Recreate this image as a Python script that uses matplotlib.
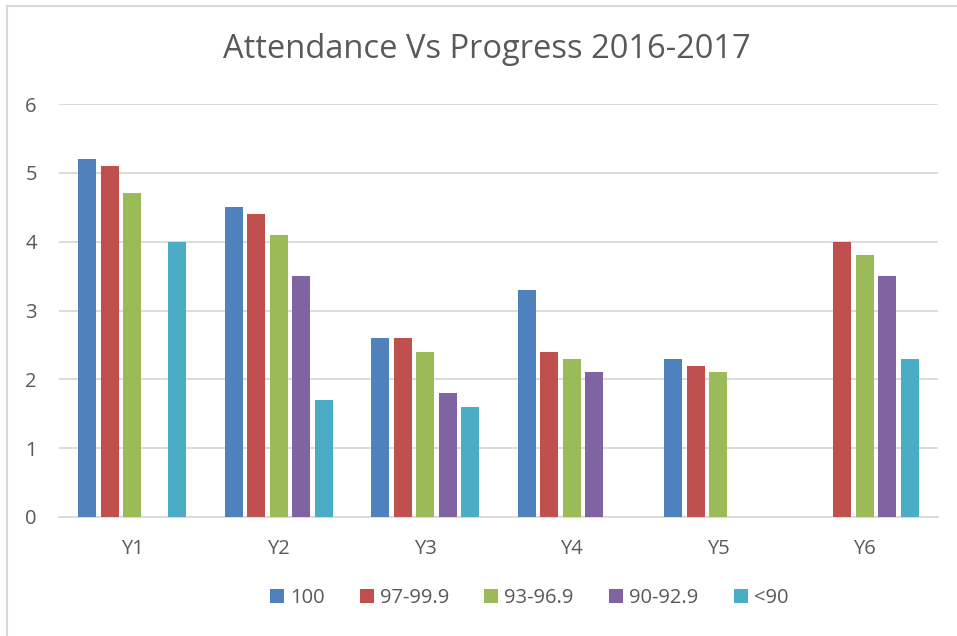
import matplotlib
matplotlib.use("Agg")
import matplotlib.pyplot as plt
import numpy as np

categories = ["Y1", "Y2", "Y3", "Y4", "Y5", "Y6"]
series_names = ["100", "97-99.9", "93-96.9", "90-92.9", "<90"]
s_100 = [5.2, 4.5, 2.6, 3.3, 2.3, np.nan]
s_97 = [5.1, 4.4, 2.6, 2.4, 2.2, 4.0]
s_93 = [4.7, 4.1, 2.4, 2.3, 2.1, 3.8]
s_90 = [np.nan, 3.5, 1.8, 2.1, np.nan, 3.5]
s_lt90 = [4.0, 1.7, 1.6, np.nan, np.nan, 2.3]
series = [s_100, s_97, s_93, s_90, s_lt90]
colors = ["#4F81BD", "#C0504D", "#9BBB59", "#8064A2", "#4BACC6"]

plt.rcParams['font.family'] = ['Open Sans', 'DejaVu Sans']
txt = "#595959"

fig = plt.figure(figsize=(9.57, 6.36), dpi=100)
ax = fig.add_axes([59/957, 1-517/636, (938-59)/957, (517-104)/636])

x = np.arange(len(categories))
step = 0.1535
width = 0.1228
for i, (vals, c, name) in enumerate(zip(series, colors, series_names)):
    ax.bar(x + (i - 2) * step, vals, width=width, color=c, label=name, zorder=3)

ax.set_xlim(-0.5, len(categories) - 0.5)
ax.set_ylim(0, 6)
ax.set_yticks(range(0, 7))
ax.set_xticks(x)
ax.set_xticklabels(categories)
ax.grid(axis='y', color='#D9D9D9', linewidth=1.3, zorder=0)
for s in ['top', 'right', 'left']:
    ax.spines[s].set_visible(False)
ax.spines['bottom'].set_color('#D9D9D9')
ax.spines['bottom'].set_linewidth(1.3)
ax.tick_params(axis='both', length=0, labelsize=14.5, colors=txt)
ax.tick_params(axis='y', pad=16)
ax.tick_params(axis='x', pad=16)

fig.text(487/957, 1-50/636, "Attendance Vs Progress 2016-2017", ha='center', va='center',
         fontsize=23.5, color=txt)

leg = fig.legend(loc='center', bbox_to_anchor=(529/957, 1-598/636), ncol=5, frameon=False,
                 fontsize=14.5, handlelength=0.7, handleheight=0.7, handletextpad=0.3,
                 columnspacing=1.75, labelcolor=txt)

# chart border (partially visible)
fig.add_artist(plt.Line2D([7/957, 7/957], [0, 1-6/636], color='#D9D9D9', linewidth=1.5,
                          transform=fig.transFigure))
fig.add_artist(plt.Line2D([7/957, 1], [1-6/636, 1-6/636], color='#D9D9D9', linewidth=1.5,
                          transform=fig.transFigure))

fig.savefig("out.png", dpi=100)
